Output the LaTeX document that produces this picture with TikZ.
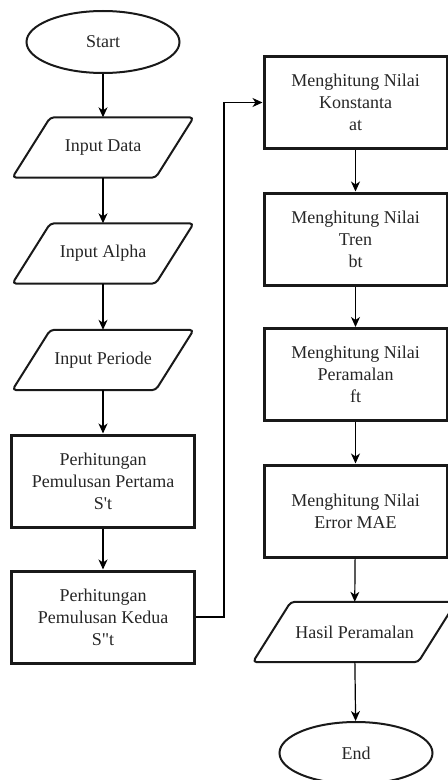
\documentclass[tikz,border=0pt]{standalone}
\usepackage{fontspec}
\setmainfont{Liberation Serif}
\usetikzlibrary{arrows.meta,shapes.geometric}

\begin{document}
\begin{tikzpicture}[x=1bp,y=-1bp,
  every node/.style={font=\fontsize{18bp}{22bp}\selectfont, text=black!85, align=center, inner sep=0pt},
  procbox/.style={rectangle, draw=black!90, line width=3bp, minimum width=182bp, minimum height=92bp},
  iobox/.style={rectangle, minimum width=181bp, minimum height=60bp},
  ioline/.style={draw=black!90, line width=2bp, rounded corners=4bp, line join=round},
  terminal/.style={ellipse, draw=black!90, line width=2bp, minimum width=153bp, minimum height=62bp},
  flow/.style={draw=black, line width=1.2bp, -{Stealth[length=10bp,width=9bp,inset=3bp]}}]

\useasboundingbox (0,0) rectangle (448,780);
\clip (0,0) rectangle (448,780);

% left column
\node[terminal] (start)   at (103,42)    {Start};
\node[iobox]    (indata)  at (103,147.5) {Input Data};
\node[iobox]    (inalpha) at (103,253.5) {Input Alpha};
\node[iobox]    (inper)   at (103,360)   {Input Periode};
\node[procbox]  (pertama) at (103,481)   {Perhitungan\\Pemulusan Pertama\\S\textquotesingle t};
\node[procbox]  (kedua)   at (103,617)   {Perhitungan\\Pemulusan Kedua\\S\textquotedbl t};

% right column
\node[procbox, minimum width=183bp] (konst)  at (355.5,102.5) {Menghitung Nilai\\Konstanta\\at};
\node[procbox, minimum width=183bp] (tren)   at (355.5,239)   {Menghitung Nilai\\Tren\\bt};
\node[procbox, minimum width=183bp] (peram)  at (355.5,374.5) {Menghitung Nilai\\Peramalan\\ft};
\node[procbox, minimum width=183bp] (errmae) at (355.5,511)   {Menghitung Nilai\\Error MAE};
\node[iobox, minimum width=203bp]   (hasil)  at (354.5,632)   {Hasil Peramalan};
\node[terminal] (finish) at (356,753) {End};

% parallelogram outlines of the input/output nodes
\foreach \n in {indata,inalpha,inper,hasil}{
  \draw[ioline] (\n.south west) -- ([xshift=38bp]\n.north west) -- (\n.north east)
    -- ([xshift=-38bp]\n.south east) -- cycle;
}

% connectors
\draw[flow] (start) -- (indata);
\draw[flow] (indata) -- (inalpha);
\draw[flow] (inalpha) -- (inper);
\draw[flow] (inper) -- (pertama);
\draw[flow] (pertama) -- (kedua);

\coordinate (bend) at (224,102.5);
\draw[flow] (kedua.east) -| (bend) -- (konst.west);

\draw[flow] (konst) -- (tren);
\draw[flow] (tren) -- (peram);
\draw[flow] (peram) -- (errmae);
\draw[flow] (errmae) -- (hasil);
\draw[flow] (hasil) -- (finish);
\end{tikzpicture}
\end{document}
